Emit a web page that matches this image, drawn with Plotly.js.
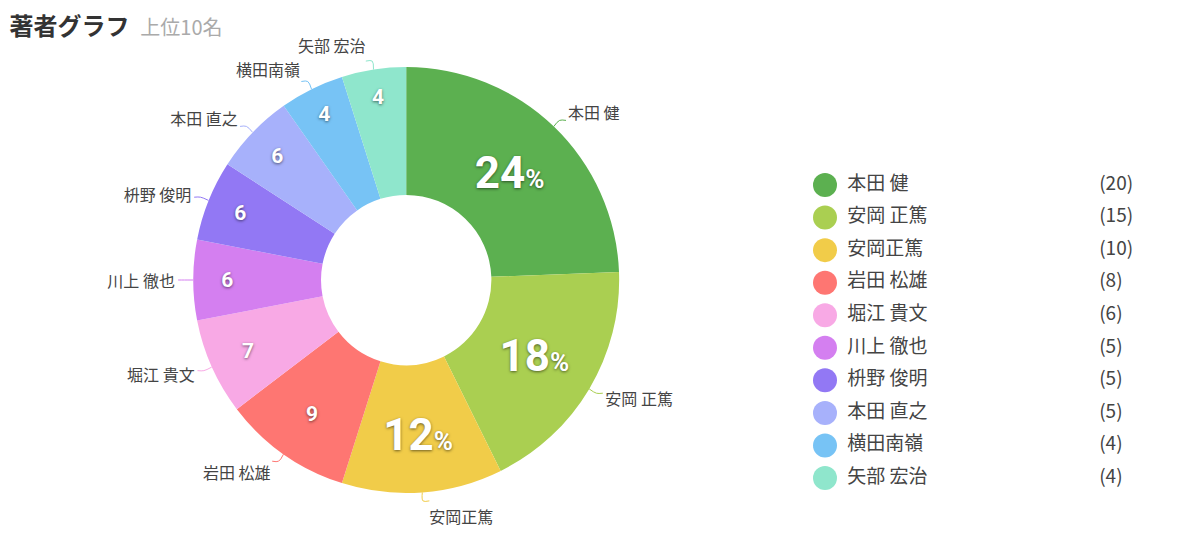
<!DOCTYPE html>
<html>
<head>
<meta charset="utf-8">
<script src="https://cdn.plot.ly/plotly-3.0.1.min.js"></script>
<style>
  body { margin: 0; background: #fff; }
  #chart { width: 1200px; height: 550px; }
  /* plotly's own dark leader line for shifted labels, we draw coloured ones */
  #chart path.textline { display: none !important; }
</style>
</head>
<body>
<div id="chart"></div>
<script>
// authors, top 10
var authors = ["本田 健", "安岡 正篤", "安岡正篤", "岩田 松雄", "堀江 貴文", "川上 徹也", "枡野 俊明", "本田 直之", "横田南嶺", "矢部 宏治"];
var counts = [20, 15, 10, 8, 6, 5, 5, 5, 4, 4];
var slice_colors = ["#5cb050", "#aacf51", "#f1cc49", "#fe7672", "#f8a9e5", "#d47ff0", "#9278f4", "#a7b1fb", "#77c3f5", "#8fe6cc"];

var total = counts.reduce(function (a, b) { return a + b }, 0);

// big slices show "24%", small ones only the number
var pct_text = [];
var pct_size = [];
for (let i = 0; i < counts.length; i++) {
    let p = Math.floor(counts[i] / total * 100);
    if (p >= 10) {
        pct_text.push(p + "<span style='font-size:26px'>%</span>");
        pct_size.push(44);
    } else {
        pct_text.push("" + p);
        pct_size.push(21);
    }
}

var legend_rows = authors.map(function (a, i) { return i });
var count_text = counts.map(function (c) { return "(" + c + ")" });

// ring: centre (406,280), radius 213px
var ring_domain = { x: [0.161, 0.516], y: [0.1036, 0.878] };
// names sit on a slightly bigger, invisible ring
var label_domain = { x: [0.1508, 0.5258], y: [0.0818, 0.9] };

var name_ring = {
    type: 'pie',
    labels: authors,
    values: counts,
    sort: false,
    direction: 'clockwise',
    rotation: 0,
    hole: 0.9,
    domain: label_domain,
    marker: { colors: authors.map(function () { return 'rgba(0,0,0,0)' }), line: { width: 0 } },
    textinfo: 'label',
    textposition: 'outside',
    outsidetextfont: { size: 16, color: '#444', family: 'Noto Sans CJK JP' },
    showlegend: false,
    hoverinfo: 'skip'
};

var ring = {
    type: 'pie',
    labels: authors,
    values: counts,
    text: pct_text,
    sort: false,
    direction: 'clockwise',
    rotation: 0,
    hole: 0.4,
    domain: ring_domain,
    marker: { colors: slice_colors, line: { width: 0 } },
    textinfo: 'text',
    textposition: 'inside',
    insidetextorientation: 'horizontal',
    insidetextfont: {
        size: pct_size, color: '#fff', family: 'Roboto', weight: 'bold',
        shadow: '0px 1px 3px rgba(0,0,0,0.55)'
    },
    showlegend: false,
    hovertemplate: '%{label}: %{value}<extra></extra>'
};

// little elbow lines from each slice to its name, on a hidden square axis (1 unit = ring radius)
var leader_lines = [];
var cum = 0;
for (let i = 0; i < counts.length; i++) {
    let a = (cum + counts[i] / 2) / total * 2 * Math.PI;
    cum += counts[i];
    let sx = Math.sin(a), sy = Math.cos(a);
    let side = sx >= 0 ? 1 : -1;
    leader_lines.push({
        type: 'scatter',
        mode: 'lines',
        xaxis: 'x2', yaxis: 'y2',
        x: [sx, 1.04 * sx, 1.04 * sx + 0.03 * side],
        y: [sy, 1.04 * sy, 1.04 * sy],
        line: { color: slice_colors[i], width: 1, shape: 'spline' },
        showlegend: false,
        hoverinfo: 'skip'
    });
}

// legend on the right, drawn as a scatter on a hidden axis
var legend_dots = {
    type: 'scatter',
    mode: 'markers',
    x: authors.map(function () { return 0 }),
    y: legend_rows,
    marker: { size: 24, color: slice_colors },
    cliponaxis: false,
    showlegend: false,
    hoverinfo: 'skip'
};

var legend_names = {
    type: 'scatter',
    mode: 'markers+text',
    x: authors.map(function () { return 0 }),
    y: legend_rows,
    text: authors,
    textposition: 'middle right',
    textfont: { size: 19, color: '#444', family: 'Noto Sans CJK JP' },
    marker: { size: 34, color: 'rgba(0,0,0,0)' },
    cliponaxis: false,
    showlegend: false,
    hoverinfo: 'skip'
};

var legend_counts = {
    type: 'scatter',
    mode: 'text',
    x: counts.map(function () { return 1 }),
    y: legend_rows,
    text: count_text,
    textposition: 'middle right',
    textfont: { size: 19, color: '#444', family: 'Noto Sans CJK JP' },
    cliponaxis: false,
    showlegend: false,
    hoverinfo: 'skip'
};

var layout = {
    width: 1200,
    height: 550,
    margin: { l: 0, r: 0, t: 0, b: 0 },
    paper_bgcolor: '#fff',
    plot_bgcolor: 'rgba(0,0,0,0)',
    font: { family: 'Noto Sans CJK JP, sans-serif', color: '#444' },
    title: {
        text: "<b>著者グラフ</b>&nbsp;&nbsp;<span style='color:#aaa;font-size:20px'>上位10名</span>",
        x: 0.008, xanchor: 'left',
        y: 0.952, yanchor: 'middle',
        font: { size: 24, color: '#333', family: 'Noto Sans CJK JP' }
    },
    xaxis: { domain: [0.6875, 0.916], range: [0, 1], visible: false, fixedrange: true },
    yaxis: { domain: [0.1309, 0.6636], range: [9, 0], visible: false, fixedrange: true },
    xaxis2: { domain: [0.1431, 0.5336], range: [-1.1, 1.1], visible: false, fixedrange: true },
    yaxis2: { domain: [0.0649, 0.9169], range: [-1.1, 1.1], visible: false, fixedrange: true }
};

var traces = [name_ring, ring].concat(leader_lines, [legend_dots, legend_names, legend_counts]);
Plotly.newPlot('chart', traces, layout, { staticPlot: false, displayModeBar: false });
</script>
</body>
</html>
